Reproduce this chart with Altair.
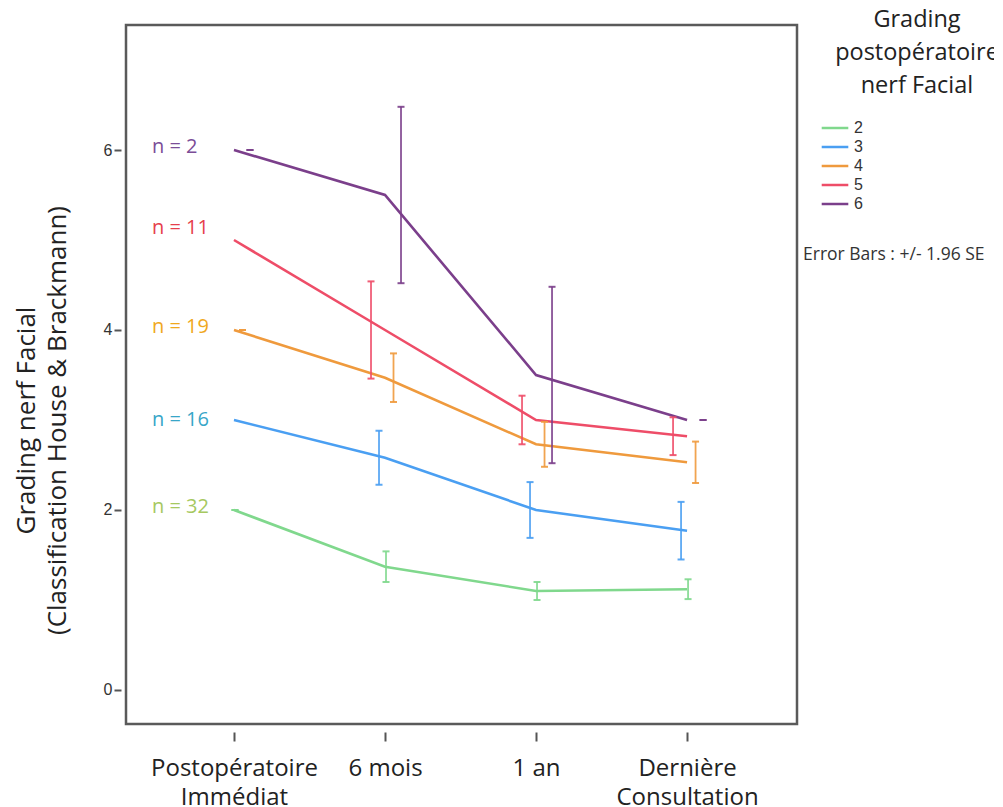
import json
import altair as alt
import pandas as pd

# ---- data ----
timepoints = [["Postopératoire", "Immédiat"], ["6 mois"], ["1 an"], ["Dernière", "Consultation"]]
grades = ["2", "3", "4", "5", "6"]
n_counts = [32, 16, 19, 11, 2]

mean_g2 = [2.0, 1.37, 1.10, 1.12]
mean_g3 = [3.0, 2.58, 2.00, 1.77]
mean_g4 = [4.0, 3.47, 2.73, 2.53]
mean_g5 = [5.0, 4.0, 3.0, 2.82]
mean_g6 = [6.0, 5.5, 3.5, 3.0]

# half width of error bars (1.96 SE); None = no bar visible
err_g2 = [0.0, 0.17, 0.10, 0.11]
err_g3 = [None, 0.30, 0.31, 0.32]
err_g4 = [0.0, 0.27, 0.25, 0.23]
err_g5 = [None, 0.54, 0.27, 0.21]
err_g6 = [0.0, 0.98, 0.98, 0.0]

label_y = [2.03, 3.0, 4.03, 5.13, 6.03]

legend_title = "Grading\npostopératoire\nnerf Facial"
error_note = "Error Bars : +/- 1.96 SE"
y_title = ["Grading nerf  Facial", "(Classification House & Brackmann)"]

# ---- styles ----
line_colors = ["#80d88d", "#4a9ff2", "#ef9a3d", "#ee4d68", "#7b3f8b"]
label_colors = ["#a6c860", "#38a6c8", "#f0a81e", "#e6404c", "#7b4d97"]
dodge_px = {"2": 1, "3": -6, "4": 8.5, "5": -14, "6": 16}
FONT = "Open Sans"

means = [mean_g2, mean_g3, mean_g4, mean_g5, mean_g6]
errs = [err_g2, err_g3, err_g4, err_g5, err_g6]
rows = []
for g, m, e in zip(grades, means, errs):
    for t in range(len(timepoints)):
        if e[t] is None:
            lo = hi = None
        else:
            lo, hi = m[t] - e[t], m[t] + e[t]
        rows.append({"grade": g, "t": t, "mean": m[t], "lo": lo, "hi": hi})
df = pd.DataFrame(rows)

labels_df = pd.DataFrame({
    "grade": grades,
    "label": [f"n = {n}" for n in n_counts],
    "y": label_y,
    "col": label_colors,
})

expr = ""
for i, tp in enumerate(timepoints):
    expr += f"datum.value == {i} ? {json.dumps(tp, ensure_ascii=False)} : "
expr += "''"

xscale = alt.Scale(domain=[-0.715, 3.728], nice=False, zero=False)
yscale = alt.Scale(domain=[-0.378, 7.389], nice=False, zero=False)
cscale = alt.Scale(domain=grades, range=line_colors)

xaxis = alt.Axis(values=[0, 1, 2, 3], labelExpr=expr, domain=False, grid=False, offset=8,
                 tickSize=9, tickWidth=2, tickColor="#555555", labelFontSize=24, labelFont=FONT,
                 labelColor="#222222", labelPadding=15, labelLineHeight=29, labelBaseline="top",
                 labelAngle=0, title=None)
yaxis = alt.Axis(values=[0, 2, 4, 6], format="d", domain=False, grid=False, offset=5, tickSize=7,
                 tickWidth=2, tickColor="#555555", labelFontSize=16, labelFont="Liberation Sans",
                 labelColor="#333333", labelPadding=2, title=y_title, titleFont=FONT,
                 titleFontSize=26, titleFontWeight="normal", titleColor="#222222",
                 titleBaseline="top", titleAlign="center", titleAngle=270,
                 titleLineHeight=31, titleX=-108, titleY=395)

base = alt.Chart(df)

lines = base.mark_line(strokeWidth=2.6).encode(
    x=alt.X("t:Q", scale=xscale, axis=xaxis),
    y=alt.Y("mean:Q", scale=yscale, axis=yaxis),
    color=alt.Color("grade:N", scale=cscale, legend=alt.Legend(
        title=None, orient="none", legendX=698, legendY=92, symbolType="M-1.4,0H1.4",
        symbolSize=361, symbolStrokeWidth=2.5, symbolFillColor="transparent",
        labelFontSize=16, labelFont="Liberation Sans",
        labelColor="#333333", rowPadding=0, labelOffset=8)),
)

layers = [lines]
for g in grades:
    sub = base.transform_filter(alt.datum.grade == g).transform_filter("isValid(datum.lo)")
    enc_color = alt.Color("grade:N", scale=cscale, legend=None)
    layers.append(sub.mark_rule(strokeWidth=1.8, xOffset=dodge_px[g], opacity=0.9).encode(
        x="t:Q", y="lo:Q", y2="hi:Q", color=enc_color))
    layers.append(sub.mark_tick(orient="horizontal", size=7, thickness=2, xOffset=dodge_px[g], opacity=0.9).encode(
        x="t:Q", y="lo:Q", color=enc_color))
    layers.append(sub.mark_tick(orient="horizontal", size=7, thickness=2, xOffset=dodge_px[g], opacity=0.9).encode(
        x="t:Q", y="hi:Q", color=enc_color))

nlabels = alt.Chart(labels_df).mark_text(align="left", baseline="middle", fontSize=20, font=FONT).encode(
    x=alt.value(26), y=alt.Y("y:Q", scale=yscale), text="label:N",
    color=alt.Color("col:N", scale=None))
layers.append(nlabels)

title_txt = alt.Chart(pd.DataFrame({"t": [legend_title]})).mark_text(
    align="center", baseline="alphabetic", fontSize=23.5, font=FONT, lineBreak="\n",
    lineHeight=33, color="#222222").encode(x=alt.value(791), y=alt.value(2), text="t:N")
note_txt = alt.Chart(pd.DataFrame({"t": [error_note]})).mark_text(
    align="left", baseline="alphabetic", fontSize=17.5, font=FONT, color="#333333").encode(
    x=alt.value(677), y=alt.value(235), text="t:N")
layers += [title_txt, note_txt]

chart = alt.layer(*layers).properties(
    width=671, height=699,
    autosize=alt.AutoSizeParams(type="none"),
    padding={"left": 118, "top": 17, "right": 197, "bottom": 84},
).configure_view(stroke="#5a5a5a", strokeWidth=2.5)

chart.save("out.html", embed_options={"renderer": "svg", "actions": False})
